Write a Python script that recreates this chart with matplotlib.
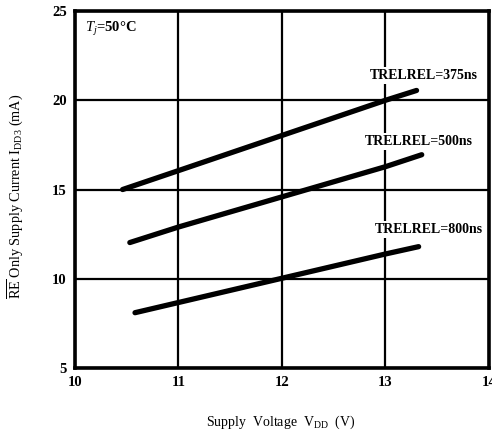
import matplotlib
matplotlib.use("Agg")
import matplotlib.pyplot as plt

plt.rcParams['font.family'] = ['Liberation Serif', 'DejaVu Serif']
plt.rcParams['mathtext.fontset'] = 'custom'
plt.rcParams['mathtext.rm'] = 'Liberation Serif'
plt.rcParams['mathtext.it'] = 'Liberation Serif:italic'
plt.rcParams['mathtext.bf'] = 'Liberation Serif:bold'

# Supply voltage (V) and current (mA) for each release timing
v_375 = [10.46, 11.0, 13.0, 13.3]
i_375 = [15.0, 16.06, 20.0, 20.55]

v_500 = [10.53, 11.0, 13.0, 13.35]
i_500 = [12.03, 12.9, 16.28, 16.95]

v_800 = [10.58, 12.0, 13.0, 13.32]
i_800 = [8.1, 10.03, 11.39, 11.8]

series_labels = ["TRELREL=375ns", "TRELREL=500ns", "TRELREL=800ns"]
label_pos = [(12.85, 21.4), (12.80, 17.67), (12.90, 12.74)]

x_ticks = [10, 11, 12, 13, 14]
y_ticks = [5, 10, 15, 20, 25]

fig = plt.figure(figsize=(4.92, 4.34), dpi=100)
ax = fig.add_axes([0.1524, 0.152, 0.8415, 0.8226])
ax.set_xlim(10, 14)
ax.set_ylim(5, 25)
ax.set_xticks(x_ticks)
ax.set_yticks(y_ticks)
ax.set_xticklabels([str(t) for t in x_ticks], fontsize=10.5, fontweight='bold')
ax.set_yticklabels([str(t) for t in y_ticks], fontsize=10.5, fontweight='bold')
ax.tick_params(length=0, pad=6)
ax.grid(True, color='black', linewidth=1.6, zorder=1)
for side in ax.spines.values():
    side.set_linewidth(2.6)
    side.set_zorder(3)

for vx, iy in [(v_375, i_375), (v_500, i_500), (v_800, i_800)]:
    ax.plot(vx, iy, color='black', linewidth=3.8, solid_capstyle='round', zorder=4)

for text, (tx, ty) in zip(series_labels, label_pos):
    ax.text(tx, ty, text, fontsize=10, fontweight='bold', ha='left', va='center',
            bbox=dict(facecolor='white', edgecolor='none', pad=1.5), zorder=5)

ax.text(10.1, 24.0, r"$\it{T_j}$=50°C", fontsize=10.5, fontweight='bold',
        ha='left', va='center', zorder=5)

fig.text(0.571, 0.028, r"Supply  Voltage  V$_{\rm DD}$  (V)", fontsize=10,
         ha='center', va='center')
fig.text(0.03, 0.548, r"$\overline{\rm RE}$ Only Supply Current I$_{\rm DD3}$ (mA)",
         fontsize=10.3, rotation=90, ha='center', va='center')

fig.savefig("out.png", dpi=100)
